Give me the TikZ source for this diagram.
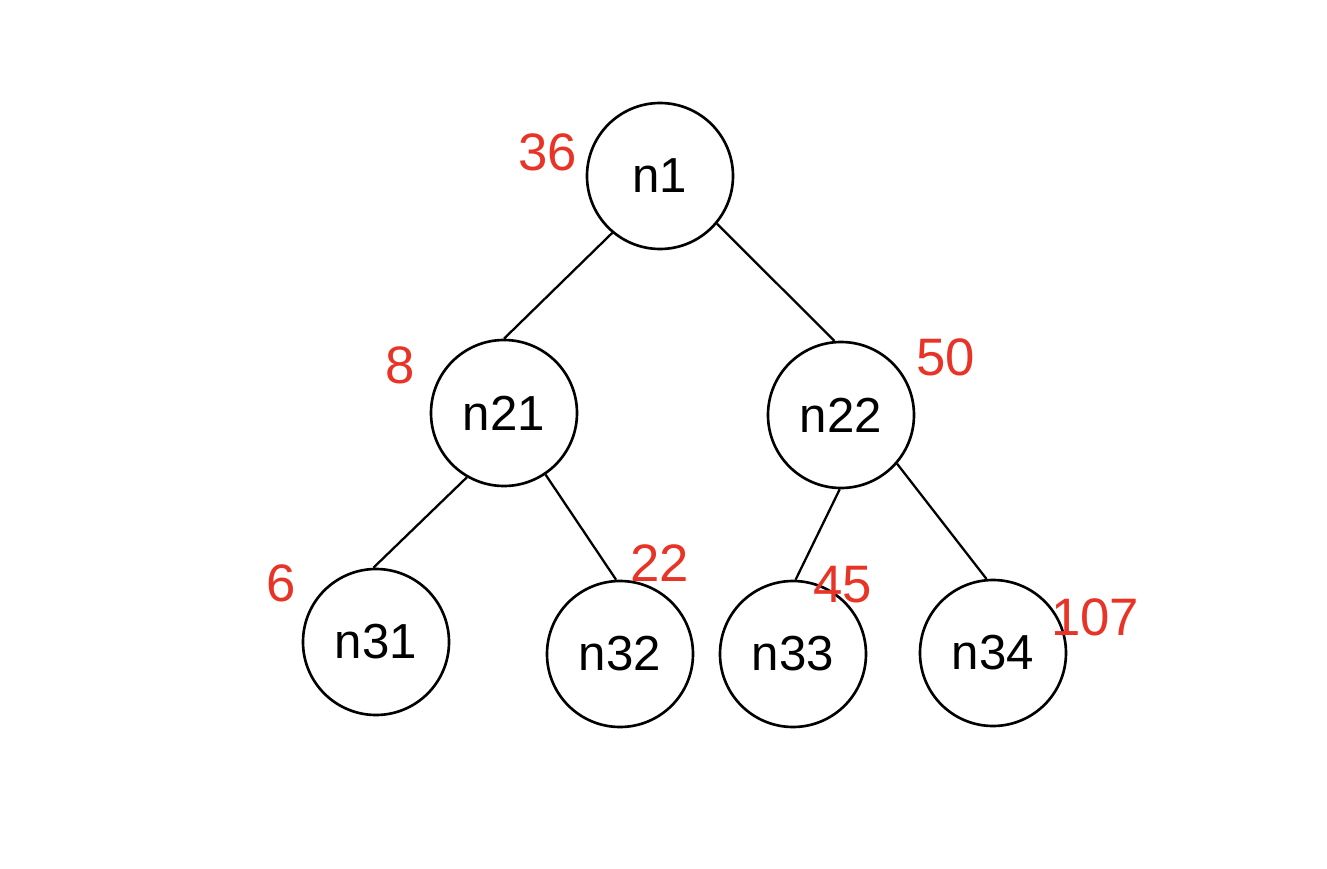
\documentclass[tikz,border=0pt]{standalone}
\usepackage{fontspec}
\setmainfont{Liberation Sans}
\definecolor{markred}{RGB}{232,52,38}
\begin{document}
\begin{tikzpicture}[
  treenode/.style={draw, circle, line width=0.75pt, minimum size=1.46cm, inner sep=0pt, font=\fontsize{14}{16}\selectfont},
  weight/.style={text=markred, font=\fontsize{15}{17}\selectfont, inner sep=0pt},
  edge/.style={line width=0.65pt}
]
\useasboundingbox (0,0) rectangle (13.27,8.68);
\node[treenode] (N1) at (6.60,6.92) {n1};
\node[treenode] (N21) at (5.04,4.55) {n21};
\node[treenode] (N22) at (8.41,4.53) {n22};
\node[treenode] (N31) at (3.76,2.26) {n31};
\node[treenode] (N32) at (6.20,2.14) {n32};
\node[treenode] (N33) at (7.93,2.14) {n33};
\node[treenode] (N34) at (9.93,2.15) {n34};
\node[weight] (W1) at (5.48,7.16) {36};
\node[weight] (W21) at (4.00,5.03) {8};
\node[weight] (W22) at (9.46,5.11) {50};
\node[weight] (W31) at (2.81,2.85) {6};
\node[weight] (W32) at (6.60,3.05) {22};
\node[weight] (W33) at (8.43,2.83) {45};
\node[weight] (W34) at (10.95,2.51) {107};
\draw[edge] (N1.230) -- (N21.90);
\draw[edge] (N1.320) -- (N22.95);
\draw[edge] (N21.240) -- (N31.92);
\draw[edge] (N21.304) -- (N32.93);
\draw[edge] (N22.269) -- (N33.88);
\draw[edge] (N22.319) -- (N34.95);
\end{tikzpicture}
\end{document}
